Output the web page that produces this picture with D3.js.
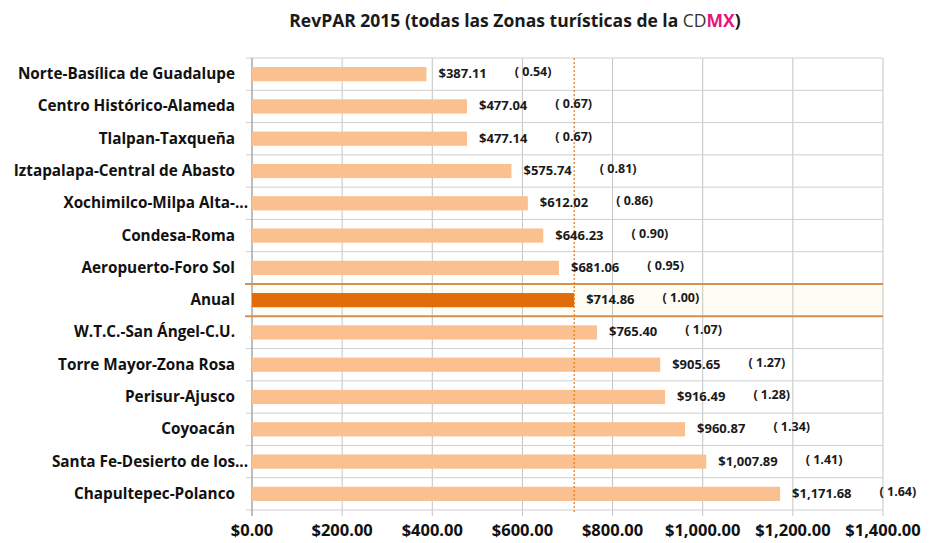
<!DOCTYPE html>
<html>
<head>
<meta charset="utf-8">
<script src="https://cdn.jsdelivr.net/npm/d3@7"></script>
<style>
  body { margin: 0; background: #fff; }
  text { font-family: "Open Sans", "Liberation Sans", sans-serif; }
</style>
</head>
<body>
<script>
'use strict';

// zones, top to bottom
const zones = [
  "Norte-Basílica de Guadalupe", "Centro Histórico-Alameda", "Tlalpan-Taxqueña",
  "Iztapalapa-Central de Abasto", "Xochimilco-Milpa Alta-...", "Condesa-Roma",
  "Aeropuerto-Foro Sol", "Anual", "W.T.C.-San Ángel-C.U.", "Torre Mayor-Zona Rosa",
  "Perisur-Ajusco", "Coyoacán", "Santa Fe-Desierto de los...", "Chapultepec-Polanco"
];
const revpar = [387.11, 477.04, 477.14, 575.74, 612.02, 646.23, 681.06,
  714.86, 765.40, 905.65, 916.49, 960.87, 1007.89, 1171.68];
const ratio = [0.54, 0.67, 0.67, 0.81, 0.86, 0.90, 0.95,
  1.00, 1.07, 1.27, 1.28, 1.34, 1.41, 1.64];
const annualName = "Anual";
const annualValue = 714.86;
const xTicks = [0, 200, 400, 600, 800, 1000, 1200, 1400];

const width = 930, height = 543;
const margin = { left: 252, right: 47, top: 58, bottom: 33 };

const svg = d3.select('body').append('svg')
  .attr('width', width)
  .attr('height', height);

const x = d3.scaleLinear().domain([0, 1400]).range([margin.left, width - margin.right]);
const y = d3.scaleBand().domain(zones).range([margin.top, height - margin.bottom]).paddingInner(0).paddingOuter(0);
const money = d3.format("$,.2f");

// title
const title = svg.append('text')
  .attr('x', 515).attr('y', 27)
  .attr('text-anchor', 'middle')
  .style('font-size', '17.5px')
  .style('font-weight', 'bold')
  .attr('fill', '#1a1a1a');
title.append('tspan').text('RevPAR 2015 (todas las Zonas turísticas de la ');
title.append('tspan').attr('fill', '#333').style('font-weight', 'normal').text('CD');
title.append('tspan').attr('fill', '#e4157f').text('MX');
title.append('tspan').text(')');

// highlighted annual row background
svg.append('rect')
  .attr('x', x(0)).attr('y', y(annualName))
  .attr('width', x(1400) - x(0)).attr('height', y.bandwidth())
  .attr('fill', '#fffcf3');

// vertical gridlines
svg.append('g').selectAll('line').data(xTicks).join('line')
  .attr('x1', d => x(d)).attr('x2', d => x(d))
  .attr('y1', margin.top).attr('y2', height - margin.bottom + 6)
  .attr('stroke', '#c4c4c4').attr('stroke-width', 1);

// horizontal row lines
const bounds = d3.range(zones.length + 1).map(i => margin.top + i * y.step());
svg.append('g').selectAll('line').data(bounds).join('line')
  .attr('x1', margin.left - 6).attr('x2', x(1400))
  .attr('y1', d => d).attr('y2', d => d)
  .attr('stroke', '#cfcfcf').attr('stroke-width', 1);

// y axis line
svg.append('line')
  .attr('x1', x(0)).attr('x2', x(0))
  .attr('y1', margin.top).attr('y2', height - margin.bottom + 6)
  .attr('stroke', '#9a9a9a');

// annual row outline lines
[y(annualName), y(annualName) + y.bandwidth()].forEach(yy => {
  svg.append('line')
    .attr('x1', margin.left - 7).attr('x2', x(1400))
    .attr('y1', yy).attr('y2', yy)
    .attr('stroke', '#d49050').attr('stroke-width', 2);
});

// bars
const barH = y.bandwidth() * 0.44;
svg.append('g').selectAll('rect').data(zones).join('rect')
  .attr('x', x(0))
  .attr('y', d => y(d) + (y.bandwidth() - barH) / 2)
  .attr('width', (d, i) => x(revpar[i]) - x(0))
  .attr('height', barH)
  .attr('fill', d => d === annualName ? '#e26b0a' : '#fac090');

// dashed average line
svg.append('line')
  .attr('x1', x(annualValue)).attr('x2', x(annualValue))
  .attr('y1', margin.top).attr('y2', height - margin.bottom + 3)
  .attr('stroke', '#e07a20').attr('stroke-width', 1.2)
  .style('stroke-dasharray', '2, 2');

// category labels
const catLabels = svg.append('g').selectAll('text').data(zones).join('text')
  .attr('x', 235)
  .attr('y', d => y(d) + y.bandwidth() / 2 + 5)
  .attr('text-anchor', 'end')
  .style('font-size', '15.3px')
  .style('font-weight', 'bold')
  .attr('fill', '#111');
catLabels.each(function(d) {
  const t = d3.select(this);
  if (d.endsWith('...')) {
    t.text(d.slice(0, -3));
    const w = this.getComputedTextLength();
    t.text(null).attr('text-anchor', 'start').attr('x', 235 - w);
    t.append('tspan').text(d.slice(0, -3));
    t.append('tspan').text('...');
  } else {
    t.text(d);
  }
});

// value and ratio labels
zones.forEach((z, i) => {
  const cy = y(z) + y.bandwidth() / 2 + 4;
  const v = svg.append('text')
    .attr('x', x(revpar[i]) + 12)
    .attr('y', cy)
    .style('font-size', '13px')
    .style('font-weight', 'bold')
    .attr('fill', '#1a1a1a')
    .text(money(revpar[i]));
  const w = v.node().getComputedTextLength();
  svg.append('text')
    .attr('x', x(revpar[i]) + 12 + w + 28)
    .attr('y', cy - 2)
    .style('font-size', '12.5px')
    .style('font-weight', 'bold')
    .attr('fill', '#1a1a1a')
    .text('( ' + ratio[i].toFixed(2) + ')');
});

// x tick labels
svg.append('g').selectAll('text').data(xTicks).join('text')
  .attr('x', d => x(d))
  .attr('y', height - 7)
  .attr('text-anchor', 'middle')
  .style('font-size', '16.5px')
  .style('font-weight', 'bold')
  .attr('fill', '#111')
  .text(d => money(d));
</script>
</body>
</html>
